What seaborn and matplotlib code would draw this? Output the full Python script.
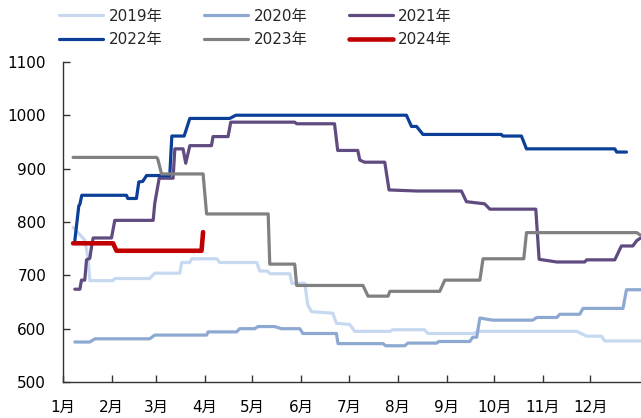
import pandas as pd
import seaborn as sns
import matplotlib.pyplot as plt

# day-of-year positions and prices
x_2019 = [6.5, 13.9, 16, 17.1, 31.8, 32.9, 55, 58.2, 74, 75.3, 80.4, 81.6, 97.5, 99.4, 122.8, 124.7,
          129.7, 131, 143.7, 145, 153.2, 155, 157.4, 170.9, 173.2, 181.6, 184.8, 207, 208.9, 229, 231,
          259.5, 264, 325.3, 331.6, 341, 343, 365.8]
y_2019 = [790, 766, 732, 690, 690, 694, 694, 704, 704, 724, 724, 731, 731, 724, 724, 708,
          708, 703, 703, 685, 685, 645, 632, 629, 610, 608, 595, 595, 598, 598, 591,
          591, 595, 595, 586, 586, 577, 577]

x_2020 = [7.6, 17.1, 20.3, 55, 58.2, 91, 92, 110, 112, 121.5, 123.6, 134, 138.4, 150, 152, 173.2,
          174.2, 202.7, 204.4, 216.5, 218.4, 236.7, 238, 257.6, 259.5, 262, 264, 272, 297.5, 300,
          312.7, 314.6, 327.2, 329.3, 354.6, 356.8, 365.8]
y_2020 = [575, 575, 581, 581, 588, 588, 594, 594, 600, 600, 604, 604, 600, 600, 591, 591,
          572, 572, 568, 568, 573, 573, 576, 576, 584, 584, 620, 616, 616, 621,
          621, 627, 627, 638, 638, 673, 673]

x_2021 = [7.6, 10.8, 11.8, 13.9, 15, 17.1, 18.2, 19.2, 30.8, 32.9, 57.2, 58.2, 61, 69.8, 70.9, 76.1,
          77.8, 80.4, 94.1, 95.1, 104.6, 106.3, 146.8, 148, 172, 174, 186.7, 188, 191, 203.8, 206.5,
          224, 252.3, 255.5, 267, 270.3, 299.4, 301.5, 312.7, 330.4, 331.6, 349.4, 353.6, 360.8,
          363.3, 365.8]
y_2021 = [674, 674, 691, 691, 729, 732, 754, 770, 770, 803, 803, 835, 882, 882, 937, 937,
          910, 943, 943, 960, 960, 987, 987, 984, 984, 934, 934, 916, 912, 912, 860,
          858, 858, 838, 834, 824, 824, 730, 725, 725, 729, 729, 755, 755,
          765, 770]

x_2022 = [7.6, 10.1, 10.8, 12, 40.3, 41.1, 46.6, 48.1, 50.6, 53, 67.7, 69, 76.8, 80.4, 105.7, 109.5,
          217.5, 220.7, 223.9, 228, 277.6, 278.5, 290.3, 293.5, 349.4, 350.6, 356.8]
y_2022 = [765, 830, 833, 850, 850, 844, 844, 875, 876, 887, 887, 961, 961, 994, 994, 1000,
          1000, 979, 979, 964, 964, 961, 961, 937, 937, 931, 931]

x_2023 = [6.5, 59.3, 60.1, 62.5, 88.8, 91, 130, 131, 146.8, 148, 190, 193.2, 205.9, 207, 238.6,
          241.8, 264, 266, 291.8, 293.5, 363.3, 365.8]
y_2023 = [921, 921, 918, 890, 890, 815, 815, 721, 721, 681, 681, 661, 661, 670, 670,
          691, 691, 731, 731, 780, 780, 775]

x_2024 = [6.5, 31.8, 34, 87.8, 88.8]
y_2024 = [760, 760, 746, 746, 781]

years = ["2019年", "2020年", "2021年", "2022年", "2023年", "2024年"]
colors = ["#C6D9F1", "#8EA9D1", "#5F4B80", "#0B3F98", "#808080", "#C00000"]
widths = [2.3, 2.3, 2.3, 2.3, 2.3, 3.3]

month_days = [0, 31, 59, 90, 120, 151, 181, 212, 243, 273, 304, 334]
month_labels = [f"{m}月" for m in range(1, 13)]

series = [(x_2019, y_2019), (x_2020, y_2020), (x_2021, y_2021),
          (x_2022, y_2022), (x_2023, y_2023), (x_2024, y_2024)]

sns.set_style("white")
plt.rcParams["font.family"] = ["DejaVu Sans", "Noto Sans CJK SC"]

fig = plt.figure(figsize=(6.41, 4.18), dpi=100)
ax = fig.add_axes([0.098, 0.086, 0.902, 0.766])

for (xs, ys), name, c, lw in zip(series, years, colors, widths):
    df = pd.DataFrame({"day": xs, "price": ys})
    sns.lineplot(data=df, x="day", y="price", color=c, linewidth=lw, label=name,
                 estimator=None, sort=False, ax=ax)

ax.set_xlim(0, 366)
ax.set_ylim(500, 1100)
ax.set_yticks(range(500, 1101, 100))
ax.set_xticks(month_days)
ax.set_xticklabels(month_labels)
ax.set_xlabel(None)
ax.set_ylabel(None)
ax.tick_params(axis="both", direction="in", length=5, width=1, colors="#333333",
               labelcolor="black", labelsize=11, left=True, bottom=True)
ax.tick_params(axis="y", pad=12)
ax.tick_params(axis="x", pad=13)
for side in ["top", "right"]:
    ax.spines[side].set_visible(False)
for side in ["left", "bottom"]:
    ax.spines[side].set_color("#333333")
    ax.spines[side].set_linewidth(1)

handles, labels = ax.get_legend_handles_labels()
ax.get_legend().remove()
order = [0, 3, 1, 4, 2, 5]
fig.legend([handles[i] for i in order], [labels[i] for i in order], ncol=3,
           loc="upper left", bbox_to_anchor=(0.085, 0.99), frameon=False, fontsize=11,
           handlelength=2.9, handletextpad=0.35, columnspacing=2.7, labelspacing=0.55,
           borderpad=0.3, borderaxespad=0)

fig.savefig("out.png", dpi=100)
